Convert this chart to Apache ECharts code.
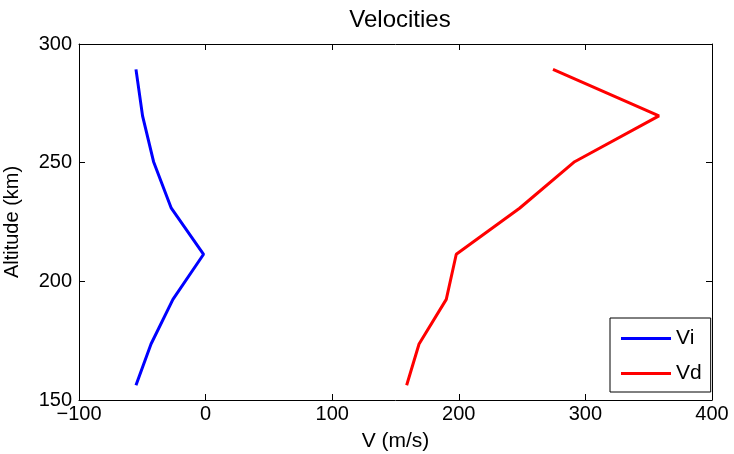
<!DOCTYPE html>
<html><head><meta charset="utf-8">
<script src="https://cdn.jsdelivr.net/npm/echarts@6/dist/echarts.min.js"></script>
<style>html,body{margin:0;padding:0;background:#fff}#c{width:734px;height:454px}</style>
</head><body><div id="c"></div>
<script>
const altitudes = [289.3, 269.7, 250.4, 230.8, 211.4, 192.4, 173.6, 156.2];
const vi = [-55.0, -49.8, -41.1, -27.1, -1.6, -25.8, -43.1, -55.0];
const vd = [274.4, 358.1, 291.5, 248.0, 198.0, 190.1, 168.6, 158.8];
const xTicks = [-100, 0, 100, 200, 300, 400];
const yTicks = [150, 200, 250, 300];

const font = 'Liberation Sans, Arial, Helvetica, sans-serif';
const chart = echarts.init(document.getElementById('c'), null, {renderer: 'canvas'});
const axisCommon = () => ({
  axisLine: {onZero: false, lineStyle: {color: '#000', width: 1}},
  axisTick: {inside: true, length: 6, lineStyle: {color: '#000'}},
  splitLine: {show: false}
});
chart.setOption({
  animation: false,
  title: {text: 'Velocities', left: 395, top: 3, textAlign: 'center',
    textStyle: {fontFamily: font, fontSize: 24, fontWeight: 'normal', color: '#000'}},
  grid: {left: 79, right: 22, top: 44, bottom: 54, show: false,
    containLabel: false, outerBoundsMode: 'none'},
  legend: {
    data: ['Vi', 'Vd'], orient: 'vertical', left: 610, top: 318,
    padding: [10, 9, 8, 11], itemGap: 14,
    itemWidth: 50, itemHeight: 3, icon: 'rect',
    borderColor: '#000', borderWidth: 1, backgroundColor: '#fff',
    textStyle: {fontFamily: font, fontSize: 21, color: '#000'}
  },
  xAxis: [
    Object.assign({type: 'value', min: -100, max: 400, interval: 100, position: 'bottom',
      name: 'V (m/s)', nameLocation: 'middle', nameGap: 31,
      nameTextStyle: {fontFamily: font, fontSize: 21, color: '#000'},
      axisLabel: {fontFamily: font, fontSize: 20, color: '#000', margin: 4,
        formatter: v => xTicks.includes(v) ? (v < 0 ? '\u2212' + Math.abs(v) : String(v)) : ''}}, axisCommon()),
    Object.assign({type: 'value', min: -100, max: 400, interval: 100, position: 'top',
      axisLabel: {show: false}}, axisCommon())
  ],
  yAxis: [
    Object.assign({type: 'value', min: 150, max: 300, interval: 50, position: 'left',
      name: 'Altitude (km)', nameLocation: 'middle', nameGap: 57,
      nameTextStyle: {fontFamily: font, fontSize: 20, color: '#000'},
      axisLabel: {fontFamily: font, fontSize: 20, color: '#000', margin: 7,
        formatter: v => yTicks.includes(v) ? String(v) : ''}}, axisCommon()),
    Object.assign({type: 'value', min: 150, max: 300, interval: 50, position: 'right',
      axisLabel: {show: false}}, axisCommon())
  ],
  series: [
    {name: 'Vi', type: 'line', data: vi.map((v, i) => [v, altitudes[i]]),
      showSymbol: false, lineStyle: {color: '#0000ff', width: 3}, itemStyle: {color: '#0000ff'}},
    {name: 'Vd', type: 'line', data: vd.map((v, i) => [v, altitudes[i]]),
      showSymbol: false, lineStyle: {color: '#ff0000', width: 3}, itemStyle: {color: '#ff0000'}}
  ]
});
</script></body></html>
